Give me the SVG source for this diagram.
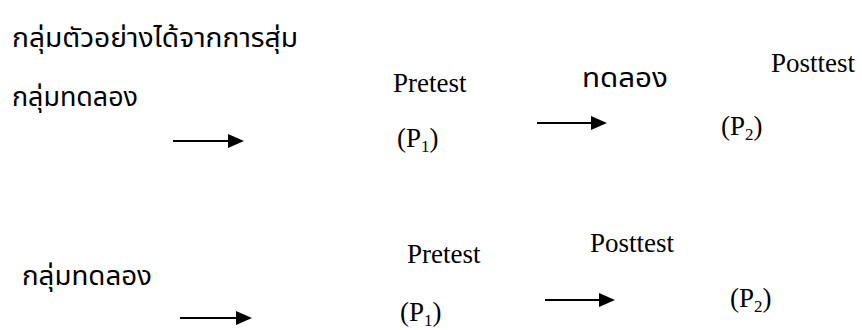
<svg xmlns="http://www.w3.org/2000/svg" width="862" height="330" viewBox="0 0 862 330">
<style>
.th{font-family:"Noto Sans Thai","Noto Serif Thai","Noto Sans","DejaVu Sans",sans-serif;font-size:26px;fill:#000}
.lt{font-family:"Liberation Serif","Times New Roman",serif;font-size:27px;fill:#000}
.sub{font-size:17px}
.arr{stroke:#000;stroke-width:2;fill:none}
</style>
<defs>
<marker id="ah" viewBox="0 0 16 14" refX="6" refY="7" markerWidth="16" markerHeight="14" markerUnits="userSpaceOnUse" orient="auto">
<path d="M0,0 L16,7 L0,14 Z" fill="#000"/>
</marker>
</defs>
<rect width="862" height="330" fill="#fff"/>
<g id="title"><text class="th" x="12" y="47" textLength="286" lengthAdjust="spacingAndGlyphs">กลุ่มตัวอย่างได้จากการสุ่ม</text></g>
<g id="group1"><text class="th" x="12" y="106" textLength="126" lengthAdjust="spacingAndGlyphs">กลุ่มทดลอง</text></g>
<g id="pretest1"><text class="lt" x="393" y="92">Pretest</text></g>
<g id="p1a"><text class="lt" x="397" y="147">(P<tspan class="sub" dy="5">1</tspan><tspan dy="-5">)</tspan></text></g>
<g id="treat"><text class="th" x="582" y="87" textLength="86" lengthAdjust="spacingAndGlyphs">ทดลอง</text></g>
<g id="posttest1"><text class="lt" x="771" y="72">Posttest</text></g>
<g id="p2a"><text class="lt" x="721" y="135">(P<tspan class="sub" dy="5">2</tspan><tspan dy="-5">)</tspan></text></g>
<g id="group2"><text class="th" x="22" y="285" textLength="130" lengthAdjust="spacingAndGlyphs">กลุ่มทดลอง</text></g>
<g id="pretest2"><text class="lt" x="407" y="263">Pretest</text></g>
<g id="p1b"><text class="lt" x="400" y="321">(P<tspan class="sub" dy="5">1</tspan><tspan dy="-5">)</tspan></text></g>
<g id="posttest2"><text class="lt" x="590" y="252">Posttest</text></g>
<g id="p2b"><text class="lt" x="730" y="307">(P<tspan class="sub" dy="5">2</tspan><tspan dy="-5">)</tspan></text></g>
<g id="connectors">
<line class="arr" x1="173" y1="141" x2="234" y2="141" marker-end="url(#ah)"/>
<line class="arr" x1="537" y1="123" x2="597" y2="123" marker-end="url(#ah)"/>
<line class="arr" x1="180" y1="318" x2="242" y2="318" marker-end="url(#ah)"/>
<line class="arr" x1="545" y1="300" x2="605" y2="300" marker-end="url(#ah)"/>
</g>
</svg>
